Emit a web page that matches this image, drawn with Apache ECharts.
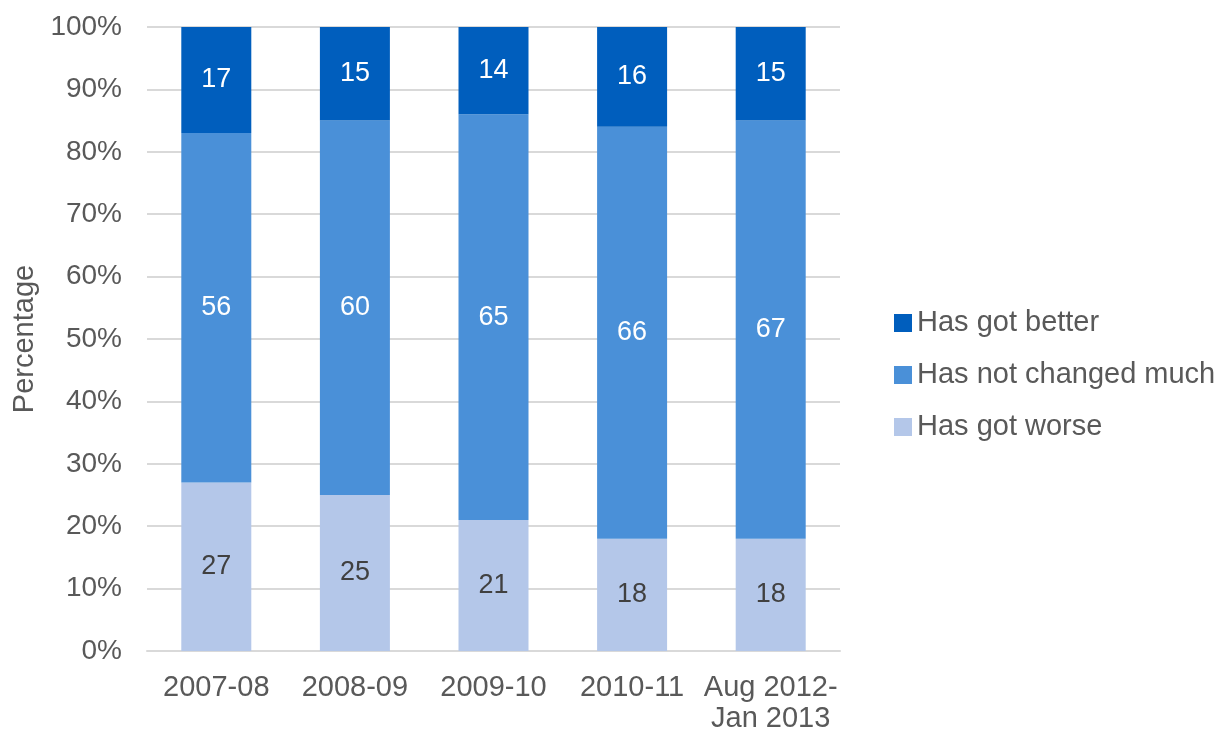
<!DOCTYPE html>
<html>
<head>
<meta charset="utf-8">
<script src="https://cdn.jsdelivr.net/npm/echarts@6/dist/echarts.min.js"></script>
<style>
  html, body { margin: 0; padding: 0; background: #ffffff; }
  #chart { width: 1223px; height: 730px; }
</style>
</head>
<body>
<div id="chart"></div>
<script>
// Periods surveyed
const categories = ['2007-08', '2008-09', '2009-10', '2010-11', 'Aug 2012-\nJan 2013'];

// Share of respondents (%) per answer
const gotWorse = [27, 25, 21, 18, 18];
const notChanged = [56, 60, 65, 66, 67];
const gotBetter = [17, 15, 14, 16, 15];

const yTicks = [0, 10, 20, 30, 40, 50, 60, 70, 80, 90, 100];

const FONT = '"Liberation Sans", Arial, sans-serif';
const TEXT = '#595959';

const chart = echarts.init(document.getElementById('chart'), null, { renderer: 'canvas' });

function seg(name, data, color, labelColor) {
  return {
    name: name,
    type: 'bar',
    stack: 'total',
    data: data,
    barWidth: 70,
    itemStyle: { color: color },
    label: {
      show: true,
      position: 'inside',
      color: labelColor,
      fontFamily: FONT,
      fontSize: 27
    },
    emphasis: { disabled: true }
  };
}

chart.setOption({
  animation: false,
  grid: { left: 147, right: 383, top: 27, bottom: 79, containLabel: false, outerBoundsMode: 'none' },
  legend: {
    orient: 'vertical',
    left: 894,
    top: 308,
    padding: 0,
    itemWidth: 18,
    itemHeight: 18,
    itemGap: 22,
    icon: 'rect',
    textStyle: { color: TEXT, fontFamily: FONT, fontSize: 29, lineHeight: 30 },
    data: ['Has got better', 'Has not changed much', 'Has got worse']
  },
  xAxis: {
    type: 'category',
    data: categories,
    axisLine: { show: true, lineStyle: { color: '#d9d9d9', width: 2 } },
    axisTick: { show: false },
    axisLabel: {
      color: TEXT,
      fontFamily: FONT,
      fontSize: 29,
      lineHeight: 31,
      margin: 21,
      interval: 0
    }
  },
  yAxis: {
    type: 'value',
    min: yTicks[0],
    max: yTicks[yTicks.length - 1],
    interval: 10,
    name: 'Percentage',
    nameLocation: 'middle',
    nameGap: 108,
    nameRotate: 90,
    nameTextStyle: { color: TEXT, fontFamily: FONT, fontSize: 29 },
    axisLine: { show: false },
    axisTick: { show: false },
    splitLine: { show: true, lineStyle: { color: '#d9d9d9', width: 2 } },
    axisLabel: {
      color: TEXT,
      fontFamily: FONT,
      fontSize: 28,
      margin: 25,
      formatter: v => v + '%'
    }
  },
  series: [
    seg('Has got worse', gotWorse, '#b4c7e9', '#404040'),
    seg('Has not changed much', notChanged, '#4a90d8', '#ffffff'),
    seg('Has got better', gotBetter, '#005ebd', '#ffffff')
  ]
});
</script>
</body>
</html>
